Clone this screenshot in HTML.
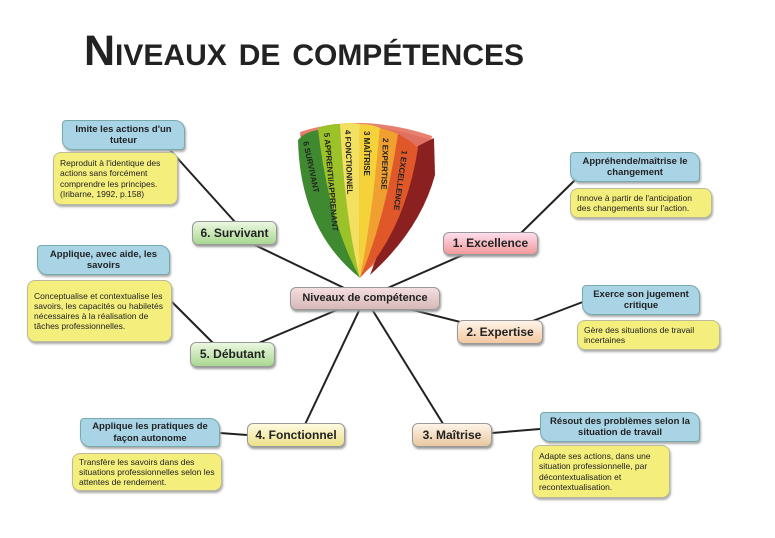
<!DOCTYPE html>
<html><head><meta charset="utf-8"><style>
body{margin:0;width:775px;height:538px;background:#fff;position:relative;overflow:hidden;font-family:"Liberation Sans",sans-serif;}
.t{position:absolute;left:84px;top:27px;font-family:"Liberation Sans Narrow","Liberation Sans",sans-serif;font-weight:bold;font-size:43px;color:#222;font-variant:small-caps;letter-spacing:0px;white-space:nowrap}
.b{position:absolute;box-sizing:border-box;text-align:center;font-weight:bold;color:#222;display:flex;align-items:center;justify-content:center;line-height:1.2}
.blue{background:#a8d4e6;border:1px solid #7aa;border-radius:4px 10px 4px 10px;font-size:9.5px;box-shadow:1px 2px 2px #aaa}
.yel{background:#f4ee7c;border:1px solid #bb9;border-radius:8px;font-size:8.5px;font-weight:normal;text-align:left;justify-content:flex-start;padding:3px 6px;box-shadow:1px 2px 2px #aaa}
.n{border-radius:6px;font-size:12px;border:1px solid #999;box-shadow:1px 2px 2px #999}
svg{position:absolute;left:0;top:0}
</style></head><body>
<div class="t">Niveaux de compétences</div>
<svg width="775" height="538">
<g stroke="#222" stroke-width="2" fill="none">
<line x1="365" y1="298" x2="232" y2="234"/><line x1="235" y1="222" x2="170" y2="150"/>
<line x1="365" y1="298" x2="233" y2="354"/><line x1="215" y1="345" x2="170" y2="300"/>
<line x1="365" y1="298" x2="300" y2="435"/><line x1="247" y1="435" x2="220" y2="433"/>
<line x1="365" y1="298" x2="450" y2="435"/><line x1="492" y1="433" x2="540" y2="429"/>
<line x1="365" y1="298" x2="500" y2="332"/><line x1="530" y1="322" x2="588" y2="300"/>
<line x1="365" y1="298" x2="490" y2="243"/><line x1="520" y1="234" x2="575" y2="180"/>
</g>
<path d="M300 132 Q360 112 432 136 L430 150 Q362 126 302 145 Z" fill="#e88070"/>
<path d="M300 135 Q360 115 430 140 L434 170 Q420 230 360 276 Z" fill="#e07060"/>
<path d="M418 146 L434 138 L435 175 Q420 230 370 275 Z" fill="#8a2020"/>
<path d="M298 140 Q305 132 318 130 Q330 220 360 278 Q300 230 298 140 Z" fill="#3f8a30"/>
<path d="M318 128 Q328 124 340 124 Q345 220 360 278 Q328 220 318 128 Z" fill="#9cc22a"/>
<path d="M340 124 Q350 122 360 124 Q358 220 360 278 Q345 220 340 124 Z" fill="#f2e060"/>
<path d="M360 124 Q371 124 380 128 Q372 220 360 278 Q358 220 360 124 Z" fill="#f6d23a"/>
<path d="M380 128 Q390 130 398 134 Q385 220 360 278 Q372 220 380 128 Z" fill="#f0a030"/>
<path d="M398 134 Q410 140 418 148 Q405 230 360 278 Q385 220 398 134 Z" fill="#e0582a"/>
<g font-family="Liberation Sans" font-size="8" font-weight="bold" fill="#222">
<text transform="translate(303,142) rotate(78)">6 SURVIVANT</text>
<text transform="translate(324,133) rotate(85)">5 APPRENTI/APPRENANT</text>
<text transform="translate(345,130) rotate(88)">4 FONCTIONNEL</text>
<text transform="translate(364,131) rotate(90)">3 MAÎTRISE</text>
<text transform="translate(383,138) rotate(92)">2 EXPERTISE</text>
<text transform="translate(402,150) rotate(98)">1 EXCELLENCE</text>
</g>
</svg>
<div class="b n" style="left:290px;top:287px;width:150px;height:23px;background:linear-gradient(#f4dede,#d8b8b8);font-size:11px">Niveaux de compétence</div>
<div class="b n" style="left:443px;top:232px;width:95px;height:23px;background:linear-gradient(#fde,#f09a9a)">1. Excellence</div>
<div class="b n" style="left:457px;top:320px;width:86px;height:24px;background:linear-gradient(#fff4e8,#f4c8a0)">2. Expertise</div>
<div class="b n" style="left:412px;top:423px;width:80px;height:24px;background:linear-gradient(#fff4e8,#e8c8a0)">3. Maîtrise</div>
<div class="b n" style="left:247px;top:423px;width:98px;height:24px;background:linear-gradient(#fffbe0,#ece08a)">4. Fonctionnel</div>
<div class="b n" style="left:190px;top:342px;width:85px;height:25px;background:linear-gradient(#eaf8e0,#a8d890)">5. Débutant</div>
<div class="b n" style="left:192px;top:221px;width:85px;height:24px;background:linear-gradient(#eaf8e0,#a8d890)">6. Survivant</div>
<div class="b blue" style="left:62px;top:120px;width:123px;height:30px">Imite les actions d'un tuteur</div>
<div class="b yel" style="left:53px;top:152px;width:125px;height:53px">Reproduit à l'identique des actions sans forcément comprendre les principes. (Iribarne, 1992, p.158)</div>
<div class="b blue" style="left:37px;top:245px;width:133px;height:30px">Applique, avec aide, les savoirs</div>
<div class="b yel" style="left:27px;top:280px;width:145px;height:62px">Conceptualise et contextualise les savoirs, les capacités ou habiletés nécessaires à la réalisation de tâches professionnelles.</div>
<div class="b blue" style="left:80px;top:418px;width:140px;height:29px">Applique les pratiques de façon autonome</div>
<div class="b yel" style="left:72px;top:453px;width:150px;height:38px">Transfère les savoirs dans des situations professionnelles selon les attentes de rendement.</div>
<div class="b blue" style="left:570px;top:152px;width:130px;height:30px">Appréhende/maîtrise le changement</div>
<div class="b yel" style="left:570px;top:188px;width:142px;height:30px">Innove à partir de l'anticipation des changements sur l'action.</div>
<div class="b blue" style="left:582px;top:285px;width:118px;height:30px">Exerce son jugement critique</div>
<div class="b yel" style="left:577px;top:320px;width:143px;height:30px">Gère des situations de travail incertaines</div>
<div class="b blue" style="left:540px;top:412px;width:160px;height:30px">Résout des problèmes selon la situation de travail</div>
<div class="b yel" style="left:532px;top:445px;width:138px;height:53px">Adapte ses actions, dans une situation professionnelle, par décontextualisation et recontextualisation.</div>
</body></html>
